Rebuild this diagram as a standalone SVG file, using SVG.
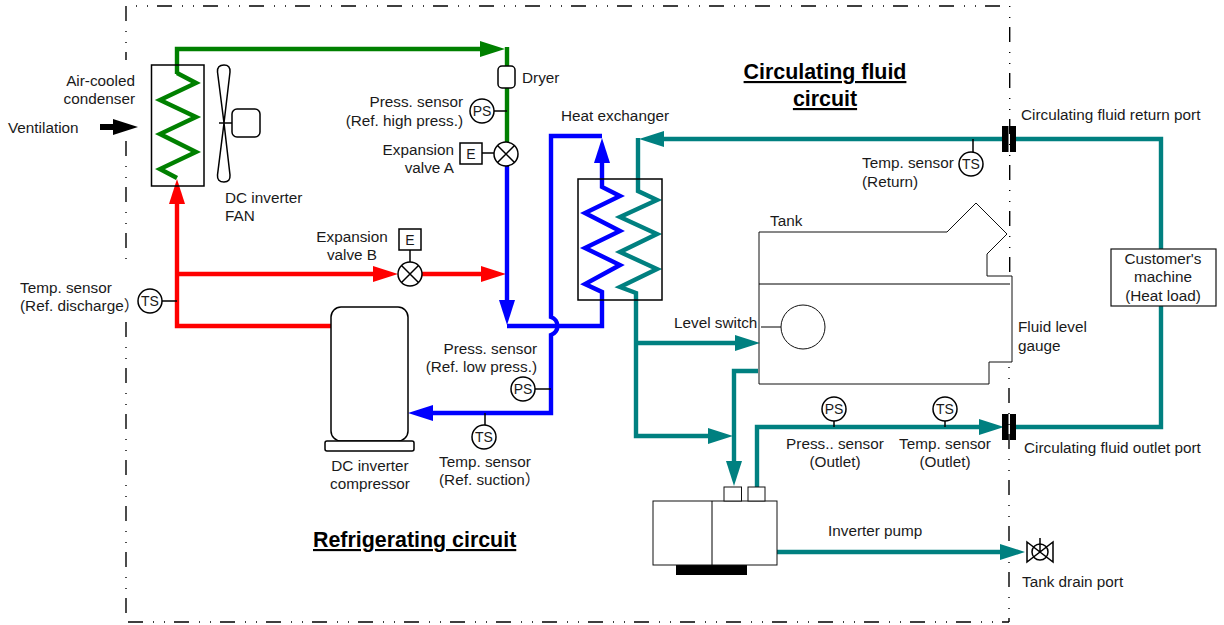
<svg xmlns="http://www.w3.org/2000/svg" width="1224" height="625" viewBox="0 0 1224 625">
<style>
text{font-family:"Liberation Sans","Noto Sans CJK JP",Arial,sans-serif;font-size:15.3px;fill:#1a1a1a}
text.c{font-size:14px;text-anchor:middle}
.m{text-anchor:middle}.e{text-anchor:end}
text.t{font-size:21.4px;font-weight:bold;text-decoration:underline;fill:#000}
.b{fill:none;stroke:#000;stroke-width:1.4;stroke-dasharray:15 10 1 10 1 9}
.s{fill:#fff;stroke:#000;stroke-width:1.5}
.k{fill:none;stroke:#000;stroke-width:1.5}
.o{fill:#fff;stroke:#111;stroke-width:1}
.p{fill:none;stroke-width:4.4;stroke-linejoin:miter}
.gr{stroke:#008000}.rd{stroke:#ff0000}.bl{stroke:#0000ff}.te{stroke:#008080}
</style>
<defs>
<marker id="ag" markerUnits="userSpaceOnUse" viewBox="0 0 25 16" markerWidth="25" markerHeight="16" refX="0" refY="8" orient="auto"><path d="M0,0L25,8L0,16Z" fill="#008000"/></marker>
<marker id="ar" markerUnits="userSpaceOnUse" viewBox="0 0 25 16" markerWidth="25" markerHeight="16" refX="0" refY="8" orient="auto"><path d="M0,0L25,8L0,16Z" fill="#ff0000"/></marker>
<marker id="ab" markerUnits="userSpaceOnUse" viewBox="0 0 25 16" markerWidth="25" markerHeight="16" refX="0" refY="8" orient="auto"><path d="M0,0L25,8L0,16Z" fill="#0000ff"/></marker>
<marker id="at" markerUnits="userSpaceOnUse" viewBox="0 0 25 16" markerWidth="25" markerHeight="16" refX="0" refY="8" orient="auto"><path d="M0,0L25,8L0,16Z" fill="#008080"/></marker>
<marker id="ak" markerUnits="userSpaceOnUse" viewBox="0 0 25 16" markerWidth="25" markerHeight="16" refX="0" refY="8" orient="auto"><path d="M0,0L25,8L0,16Z" fill="#000"/></marker>
</defs>
<g id="boundary">
<path class="b" d="M126,6V60"/>
<path class="b" d="M126,141V269"/>
<path class="b" d="M126,322V622"/>
<path class="b" style="stroke-dashoffset:15" d="M126,6H1009"/>
<path class="b" d="M128,622H1009"/>
<path class="b" style="stroke-dashoffset:25" d="M1009.7,6V272"/>
<path class="b" style="stroke-dashoffset:25" d="M1009,367V622"/>
</g>
<g id="connectors">
<path class="p gr" d="M177,74V49H480" marker-end="url(#ag)"/>
<path class="p gr" d="M507,47V142"/>
<path class="p gr" d="M177,73L196,83L160,100L196,117L160,134L196,152L160,169L177,178"/>
<path class="p rd" d="M331,326H177V204" marker-end="url(#ar)"/>
<path class="p rd" d="M177,274H373" marker-end="url(#ar)"/>
<path class="p rd" d="M422,274H481" marker-end="url(#ar)"/>
<path class="p bl" d="M507,166V300" marker-end="url(#ab)"/>
<path class="p bl" d="M507,326H602V292L585,284L620,265L585,248L620,231L585,213L620,196L602,187V163" marker-end="url(#ab)"/>
<path class="p bl" d="M602,136H551V317A9.5,9.5 0 0 1 551,335V413H433" marker-end="url(#ab)"/>
<path class="p te" d="M1002,139H664" marker-end="url(#at)"/>
<path class="p te" d="M638,138V191L657,200L620,217L657,234L620,252L657,269L620,287L636,293V436H708" marker-end="url(#at)"/>
<path class="p te" d="M636,343H735" marker-end="url(#at)"/>
<path class="p te" d="M758,371H734V461" marker-end="url(#at)"/>
<path class="p te" d="M757,487V427H979" marker-end="url(#at)"/>
<path class="p te" d="M1016,139H1161V427H1016"/>
<path class="p te" d="M777,552H1000" marker-end="url(#at)"/>
<path d="M100,127H113" fill="none" stroke="#000" stroke-width="6" marker-end="url(#ak)"/>
<path class="k" d="M162,301H177M494,111H507M482,153H494M410,250V262M535,389H551M485,413V425M973,139V152M834,421V427M945,421V427"/>
</g>
<g id="condenser"><rect class="k" x="151.5" y="65" width="52.5" height="121"/><text class="e" x="135" y="86">Air-cooled</text><text class="e" x="135" y="104">condenser</text></g>
<g id="ventilation"><text x="8" y="133">Ventilation</text></g>
<g id="fan"><path class="k" d="M224,123L217.5,72Q217,65 224,65Q230.500,65 230,72L224,123L230,175Q230.500,182 224,182Q217,182 217.500,175Z"/><path class="k" d="M219,123H232"/><rect class="s" x="232" y="109" width="28" height="28" rx="5"/><text x="225" y="203">DC inverter</text><text x="225" y="221">FAN</text></g>
<g id="dryer"><rect class="s" x="498" y="66" width="17" height="22" rx="4"/><text x="522" y="83">Dryer</text></g>
<g id="ps-high"><circle class="s" cx="482" cy="111" r="12"/><text class="c" x="482" y="116">PS</text><text class="e" x="463" y="107">Press. sensor</text><text class="e" x="463" y="126">(Ref. high press.)</text></g>
<g id="valve-a"><rect class="s" x="460" y="143" width="22" height="21"/><text class="c" x="471" y="159">E</text><circle class="s" cx="506" cy="154" r="12"/><path class="k" d="M497.500,145.500L514.500,162.500M514.500,145.500L497.500,162.500"/><text class="e" x="454" y="155">Expansion</text><text class="e" x="454" y="173">valve A</text></g>
<g id="valve-b"><rect class="s" x="399" y="229" width="22" height="21"/><text class="c" x="410" y="245">E</text><circle class="s" cx="410" cy="274" r="12"/><path class="k" d="M401.500,265.500L418.500,282.500M418.500,265.500L401.500,282.500"/><text class="m" x="352" y="242">Expansion</text><text class="m" x="352" y="260">valve B</text></g>
<g id="ts-discharge"><circle class="s" cx="150" cy="301" r="12"/><text class="c" x="150" y="306">TS</text><text x="20" y="293">Temp. sensor</text><text x="20" y="311">(Ref. discharge）</text></g>
<g id="compressor"><rect class="s" x="331" y="307" width="77" height="134" rx="10"/><rect class="s" x="325" y="441" width="89" height="10" rx="2"/><text class="m" x="370" y="471">DC inverter</text><text class="m" x="370" y="489">compressor</text></g>
<g id="ps-low"><circle class="s" cx="523" cy="389" r="12"/><text class="c" x="523" y="394">PS</text><text class="e" x="537" y="354">Press. sensor</text><text class="e" x="537" y="372">(Ref. low press.)</text></g>
<g id="ts-suction"><circle class="s" cx="484" cy="437" r="12"/><text class="c" x="484" y="442">TS</text><text x="439" y="467">Temp. sensor</text><text x="439" y="485">(Ref. suction）</text></g>
<g id="heat-exchanger"><rect class="k" x="578" y="179" width="84" height="121"/><text x="561" y="121">Heat exchanger</text></g>
<g id="ts-return"><circle class="s" cx="971" cy="164" r="12"/><text class="c" x="971" y="169">TS</text><text x="862" y="168">Temp. sensor</text><text x="862" y="187">(Return)</text></g>
<g id="return-port"><rect x="1002" y="126" width="6.500" height="26" fill="#000"/><rect x="1010" y="126" width="6" height="26" fill="#000"/><text x="1021" y="120">Circulating fluid return port</text></g>
<g id="outlet-port"><rect x="1002" y="414" width="6.500" height="26" fill="#000"/><rect x="1010" y="414" width="6" height="26" fill="#000"/><text x="1024" y="453">Circulating fluid outlet port</text></g>
<g id="customer-machine"><rect class="o" x="1111" y="249" width="105" height="57" style="stroke-width:1.200"/><text class="m" x="1163" y="264">Customer's</text><text class="m" x="1163" y="282">machine</text><text class="m" x="1163" y="301">(Heat load)</text></g>
<g id="tank"><path class="o" style="fill:none" d="M759,232H947L976,203L1007,234L987,254V276H1012V362H989V384H759Z"/><path class="k" style="stroke-width:1" d="M759,284H1010M761,327H781"/><circle class="o" cx="803" cy="327" r="22"/><text x="770" y="226">Tank</text><text x="674" y="328">Level switch</text><text x="1018" y="332">Fluid level</text><text x="1018" y="351">gauge</text></g>
<g id="ps-outlet"><circle class="s" cx="834" cy="409" r="12"/><text class="c" x="834" y="414">PS</text><text class="m" x="835" y="449">Press.. sensor</text><text class="m" x="835" y="467">(Outlet)</text></g>
<g id="ts-outlet"><circle class="s" cx="945" cy="409" r="12"/><text class="c" x="945" y="414">TS</text><text class="m" x="945" y="449">Temp. sensor</text><text class="m" x="945" y="467">(Outlet)</text></g>
<g id="pump"><rect x="676" y="565" width="71" height="10" fill="#000"/><rect class="o" x="653" y="501" width="124" height="64"/><path class="k" style="stroke-width:1" d="M712,501V565"/><rect class="o" x="724" y="487" width="17.500" height="14"/><rect class="o" x="748" y="487" width="17" height="14"/><text x="828" y="536">Inverter pump</text></g>
<g id="drain-valve"><path class="k" d="M1027,542L1053,562V542L1027,562ZM1040,538V552"/><circle class="k" cx="1040" cy="552" r="8"/><text x="1022" y="587">Tank drain port</text></g>
<g id="titles"><text class="t m" x="825" y="79">Circulating fluid</text><text class="t m" x="825" y="106">circuit</text><text class="t" x="313" y="547">Refrigerating circuit</text></g>
</svg>
